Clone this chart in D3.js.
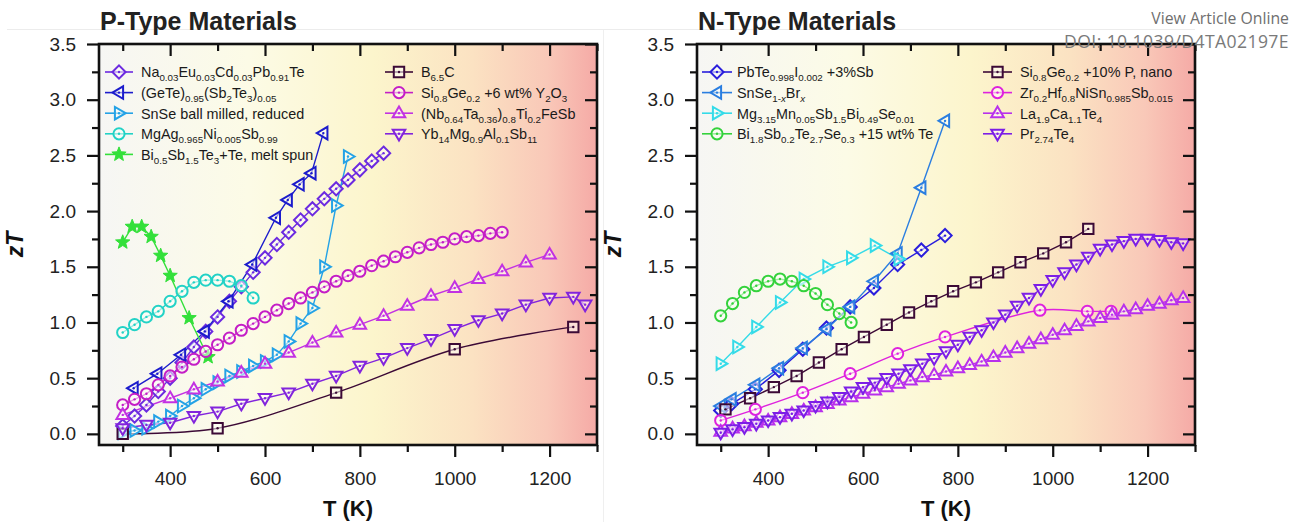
<!DOCTYPE html>
<html><head><meta charset="utf-8">
<script src="https://cdn.jsdelivr.net/npm/d3@7"></script>
<style>
body{margin:0;background:#fff;}
svg{display:block;font-family:"Liberation Sans",Arial,sans-serif;}
</style>
</head><body>
<svg id="c" width="1291" height="522"></svg>
<script>
// ---------- axis ticks ----------
const xTickLabels = [400, 600, 800, 1000, 1200];
const xMinorTicks = [300, 500, 700, 900, 1100, 1300];
const yTickLabels = [0, 0.5, 1.0, 1.5, 2.0, 2.5, 3.0, 3.5];
const yMinorTicks = [0.25, 0.75, 1.25, 1.75, 2.25, 2.75, 3.25];

// ---------- P-type data ----------
const pNaT  = [300,325,350,375,400,425,450,475,500,525,550,575,600,625,650,675,700,725,750,775,800,825,850];
const pNaZT = [0.07,0.16,0.26,0.38,0.50,0.64,0.78,0.92,1.05,1.19,1.32,1.45,1.58,1.70,1.81,1.92,2.02,2.11,2.20,2.28,2.37,2.45,2.52];
const pGeTeT  = [323,373,423,473,523,573,623,648,673,698,723];
const pGeTeZT = [0.41,0.54,0.71,0.92,1.19,1.52,1.94,2.10,2.24,2.34,2.70];
const pSnSeT  = [300,325,350,375,400,425,450,475,500,525,550,575,600,625,650,675,700,725,750,775];
const pSnSeZT = [0.01,0.03,0.05,0.11,0.16,0.25,0.32,0.40,0.46,0.52,0.56,0.61,0.65,0.71,0.83,0.99,1.13,1.50,2.05,2.49];
const pMgAgT  = [300,325,350,375,400,425,450,475,500,525,550,575];
const pMgAgZT = [0.91,0.98,1.05,1.10,1.19,1.28,1.36,1.38,1.38,1.37,1.33,1.22];
const pBiT  = [300,320,340,360,380,400,440,480];
const pBiZT = [1.72,1.86,1.86,1.77,1.60,1.42,1.04,0.69];
const pB6T  = [300,500,750,1000,1250];
const pB6ZT = [0.00,0.05,0.37,0.76,0.96];
const pSiT  = [300,325,350,375,400,425,450,475,500,525,550,575,600,625,650,675,700,725,750,775,800,825,850,875,900,925,950,975,1000,1025,1050,1075,1100];
const pSiZT = [0.26,0.31,0.36,0.44,0.52,0.60,0.67,0.74,0.80,0.86,0.93,0.99,1.05,1.11,1.17,1.22,1.27,1.32,1.37,1.42,1.46,1.51,1.55,1.59,1.63,1.67,1.70,1.72,1.75,1.77,1.78,1.80,1.81];
const pNbT  = [300,400,450,500,550,600,650,700,750,800,850,900,950,1000,1050,1100,1150,1200];
const pNbZT = [0.17,0.32,0.40,0.47,0.55,0.63,0.73,0.82,0.91,0.98,1.06,1.15,1.24,1.31,1.39,1.46,1.54,1.61];
const pYbT  = [300,350,400,450,500,550,600,650,700,750,800,850,900,950,1000,1050,1100,1150,1200,1250,1275];
const pYbZT = [0.05,0.08,0.10,0.16,0.20,0.27,0.32,0.37,0.45,0.52,0.61,0.68,0.77,0.85,0.94,1.02,1.08,1.16,1.22,1.23,1.16];

// ---------- N-type data ----------
const nPbTeT  = [300,323,373,423,473,523,573,623,673,723,773];
const nPbTeZT = [0.21,0.27,0.40,0.57,0.76,0.95,1.14,1.31,1.52,1.65,1.78];
const nSnSeT  = [300,323,373,423,473,523,573,623,673,723,773];
const nSnSeZT = [0.25,0.31,0.44,0.59,0.77,0.94,1.14,1.37,1.62,2.21,2.81];
const nMgT  = [300,335,375,425,475,525,575,625,675];
const nMgZT = [0.63,0.78,0.96,1.18,1.39,1.50,1.58,1.69,1.57];
const nBiT  = [300,325,350,375,400,425,450,475,500,525,550,575];
const nBiZT = [1.06,1.17,1.27,1.33,1.37,1.39,1.37,1.33,1.26,1.16,1.08,1.00];
const nSiGeT  = [310,362,412,460,507,555,602,650,697,744,790,838,885,932,980,1028,1075];
const nSiGeZT = [0.22,0.32,0.42,0.52,0.64,0.76,0.87,0.98,1.09,1.19,1.28,1.36,1.45,1.54,1.62,1.72,1.84];
const nZrT  = [300,373,473,573,673,773,973,1073,1123];
const nZrZT = [0.12,0.22,0.37,0.54,0.72,0.87,1.11,1.10,1.10];
const nLaT  = [300,325,350,375,400,425,450,475,500,525,550,575,600,625,650,675,700,725,750,775,800,825,850,875,900,925,950,975,1000,1025,1050,1075,1100,1125,1150,1175,1200,1225,1250,1275];
const nLaZT = [0.02,0.05,0.07,0.10,0.12,0.15,0.18,0.21,0.24,0.27,0.30,0.33,0.36,0.39,0.42,0.45,0.48,0.51,0.53,0.56,0.59,0.62,0.65,0.69,0.73,0.77,0.81,0.85,0.89,0.93,0.97,1.01,1.04,1.07,1.10,1.12,1.15,1.17,1.20,1.22];
const nPrT  = [300,325,350,375,400,425,450,475,500,525,550,575,600,625,650,675,700,725,750,775,800,825,850,875,900,925,950,975,1000,1025,1050,1075,1100,1125,1150,1175,1200,1225,1250,1275];
const nPrZT = [0.01,0.04,0.06,0.09,0.12,0.15,0.18,0.21,0.25,0.29,0.33,0.38,0.42,0.46,0.50,0.54,0.58,0.63,0.68,0.74,0.80,0.87,0.93,1.00,1.07,1.15,1.22,1.30,1.38,1.45,1.52,1.59,1.66,1.70,1.73,1.75,1.75,1.74,1.72,1.71];

// ---------- series descriptors ----------
const pSeries = [
  {name:"Na_{0.03}Eu_{0.03}Cd_{0.03}Pb_{0.91}Te", color:"#6c2ae0", sym:"diamond", T:pNaT, v:pNaZT, col:0},
  {name:"(GeTe)_{0.95}(Sb_{2}Te_{3})_{0.05}", color:"#1c1ccc", sym:"triLeft", T:pGeTeT, v:pGeTeZT, col:0},
  {name:"SnSe ball milled, reduced", color:"#24a2e6", sym:"triRight", T:pSnSeT, v:pSnSeZT, col:0},
  {name:"MgAg_{0.965}Ni_{0.005}Sb_{0.99}", color:"#22d2c6", sym:"circle", T:pMgAgT, v:pMgAgZT, col:0},
  {name:"Bi_{0.5}Sb_{1.5}Te_{3}+Te, melt spun", color:"#33e03a", sym:"star", T:pBiT, v:pBiZT, col:0},
  {name:"B_{6.5}C", color:"#3c0a36", sym:"square", T:pB6T, v:pB6ZT, col:1, smooth:true},
  {name:"Si_{0.8}Ge_{0.2} +6 wt% Y_{2}O_{3}", color:"#c41ec6", sym:"circle", T:pSiT, v:pSiZT, col:1},
  {name:"(Nb_{0.64}Ta_{0.36})_{0.8}Ti_{0.2}FeSb", color:"#c232e2", sym:"triUp", T:pNbT, v:pNbZT, col:1},
  {name:"Yb_{14}Mg_{0.9}Al_{0.1}Sb_{11}", color:"#8224dc", sym:"triDown", T:pYbT, v:pYbZT, col:1}
];
const nSeries = [
  {name:"PbTe_{0.998}I_{0.002} +3%Sb", color:"#2a1edc", sym:"diamond", T:nPbTeT, v:nPbTeZT, col:0},
  {name:"SnSe_{1-$x$}Br_{$x$}", color:"#2a7ee0", sym:"triLeft", T:nSnSeT, v:nSnSeZT, col:0},
  {name:"Mg_{3.15}Mn_{0.05}Sb_{1.5}Bi_{0.49}Se_{0.01}", color:"#34dbe8", sym:"triRight", T:nMgT, v:nMgZT, col:0},
  {name:"Bi_{1.8}Sb_{0.2}Te_{2.7}Se_{0.3} +15 wt% Te", color:"#34d23c", sym:"circle", T:nBiT, v:nBiZT, col:0},
  {name:"Si_{0.8}Ge_{0.2} +10% P, nano", color:"#3c0a36", sym:"square", T:nSiGeT, v:nSiGeZT, col:1},
  {name:"Zr_{0.2}Hf_{0.8}NiSn_{0.985}Sb_{0.015}", color:"#de22de", sym:"circle", T:nZrT, v:nZrZT, col:1, smooth:true},
  {name:"La_{1.9}Ca_{1.1}Te_{4}", color:"#b830ec", sym:"triUp", T:nLaT, v:nLaZT, col:1},
  {name:"Pr_{2.74}Te_{4}", color:"#7c1ee6", sym:"triDown", T:nPrT, v:nPrZT, col:1}
];

const svg = d3.select("#c");
const defs = svg.append("defs");
const grad = defs.append("linearGradient").attr("id","bg").attr("x1","0").attr("x2","1").attr("y1","0").attr("y2","0");
[["0%","#f6f6f4"],["30%","#fcfbe6"],["55%","#fcf5cc"],["75%","#fbe2c2"],["90%","#f9c8b8"],["100%","#f5aaa6"]]
  .forEach(s=>grad.append("stop").attr("offset",s[0]).attr("stop-color",s[1]));

// page artefacts
svg.append("line").attr("x1",7).attr("x2",1195).attr("y1",29.5).attr("y2",29.5).attr("stroke","#ececec").attr("stroke-width",1);
svg.append("line").attr("x1",603.5).attr("x2",603.5).attr("y1",30).attr("y2",522).attr("stroke","#efefef").attr("stroke-width",1);

function symPath(sym){
  const r=6.6;
  switch(sym){
    case "diamond": return `M0,${-r}L${r},0L0,${r}L${-r},0Z`;
    case "square": {const s=5.2; return `M${-s},${-s}H${s}V${s}H${-s}Z`;}
    case "triUp": return `M0,${-r}L${r*0.95},${r*0.62}L${-r*0.95},${r*0.62}Z`;
    case "triDown": return `M0,${r}L${r*0.95},${-r*0.62}L${-r*0.95},${-r*0.62}Z`;
    case "triLeft": return `M${-r},0L${r*0.62},${-r*0.95}L${r*0.62},${r*0.95}Z`;
    case "triRight": return `M${r},0L${-r*0.62},${-r*0.95}L${-r*0.62},${r*0.95}Z`;
    case "star": {
      let p=""; const R=7.5, ri=3.2;
      for(let i=0;i<10;i++){const a=-Math.PI/2+i*Math.PI/5; const rr=i%2?ri:R; p+=(i?"L":"M")+(rr*Math.cos(a)).toFixed(2)+","+(rr*Math.sin(a)).toFixed(2);}
      return p+"Z";
    }
  }
  return null;
}
function drawMarker(g, s, cx, cy){
  if(s.sym==="circle"){
    g.append("circle").attr("cx",cx).attr("cy",cy).attr("r",5.6).attr("fill","rgba(255,255,250,0.55)").attr("stroke",s.color).attr("stroke-width",2);
  } else if(s.sym==="star"){
    g.append("path").attr("transform",`translate(${cx},${cy})`).attr("d",symPath("star")).attr("fill",s.color).attr("stroke",s.color).attr("stroke-width",1);
    return;
  } else {
    g.append("path").attr("transform",`translate(${cx},${cy})`).attr("d",symPath(s.sym)).attr("fill","rgba(255,255,250,0.55)").attr("stroke",s.color).attr("stroke-width",2).attr("stroke-linejoin","miter");
  }
  g.append("circle").attr("cx",cx).attr("cy",cy).attr("r",1.2).attr("fill",s.color);
}
function richText(sel, str, size){
  const parts = str.split(/(_\{[^}]*\})/).filter(s=>s.length);
  let shift=0;
  parts.forEach(p=>{
    const sub = p.startsWith("_{");
    const txt = sub ? p.slice(2,-1) : p;
    txt.split(/(\$[^$]*\$)/).filter(s=>s.length).forEach(q=>{
      const it = q.startsWith("$");
      const t = it ? q.slice(1,-1) : q;
      const target = sub ? 4 : 0;
      sel.append("tspan").attr("dy", target-shift).attr("font-size", sub? size*0.68 : size)
        .attr("font-style", it? "italic": null).text(t);
      shift = target;
    });
  });
}

function panel(x0, series, title, legX){
  const W=498, top=44, bot=445;
  const x = d3.scaleLinear().domain([250,1300]).range([x0, x0+W]);
  const y = d3.scaleLinear().domain([-0.1,3.5]).range([bot, top]);
  const g = svg.append("g");
  g.append("rect").attr("x",x0).attr("y",top).attr("width",W).attr("height",bot-top).attr("fill","url(#bg)");

  // series
  series.forEach(s=>{
    const pts = s.T.map((t,i)=>[x(t), y(s.v[i])]);
    const line = d3.line().curve(s.smooth? d3.curveCatmullRom.alpha(0.5) : d3.curveLinear);
    g.append("path").attr("d",line(pts)).attr("fill","none").attr("stroke",s.color).attr("stroke-width",1.4);
  });
  series.forEach(s=>{
    const mg = g.append("g");
    s.T.forEach((t,i)=>drawMarker(mg, s, x(t), y(s.v[i])));
  });

  // axes
  const fs=19;
  const ax = g.append("g").attr("transform",`translate(0,${bot})`)
     .call(d3.axisBottom(x).tickValues(xTickLabels).tickSize(12).tickPadding(15).tickFormat(d3.format("d")));
  const axm = g.append("g").attr("transform",`translate(0,${bot})`)
     .call(d3.axisBottom(x).tickValues(xMinorTicks).tickSize(7).tickFormat(""));
  const axt = g.append("g").attr("transform",`translate(0,${top})`)
     .call(d3.axisBottom(x).tickValues(xTickLabels).tickSize(12).tickFormat(""));
  const axtm = g.append("g").attr("transform",`translate(0,${top})`)
     .call(d3.axisBottom(x).tickValues(xMinorTicks).tickSize(7).tickFormat(""));
  const ay = g.append("g").attr("transform",`translate(${x0},0)`)
     .call(d3.axisLeft(y).tickValues(yTickLabels).tickSize(12).tickPadding(11).tickFormat(d3.format(".1f")));
  const aym = g.append("g").attr("transform",`translate(${x0},0)`)
     .call(d3.axisLeft(y).tickValues(yMinorTicks).tickSize(7).tickFormat(""));
  const ayr = g.append("g").attr("transform",`translate(${x0+W},0)`)
     .call(d3.axisLeft(y).tickValues(yTickLabels).tickSize(12).tickFormat(""));
  const ayrm = g.append("g").attr("transform",`translate(${x0+W},0)`)
     .call(d3.axisLeft(y).tickValues(yMinorTicks).tickSize(7).tickFormat(""));
  [ax,axm,axt,axtm,ay,aym,ayr,ayrm].forEach(a=>{
    a.select(".domain").remove();
    a.selectAll("line").attr("stroke","#111").attr("stroke-width",2.2);
    a.selectAll("text").attr("font-size",fs).attr("fill","#222").attr("font-family","Liberation Sans, Arial, sans-serif");
  });
  g.append("rect").attr("x",x0).attr("y",top).attr("width",W).attr("height",bot-top)
    .attr("fill","none").attr("stroke","#111").attr("stroke-width",2.6);

  // titles
  g.append("text").attr("x",x0+1).attr("y",30).attr("font-size",25).attr("font-weight","bold").attr("fill","#222").text(title);
  g.append("text").attr("x",x0+W/2).attr("y",516).attr("text-anchor","middle").attr("font-size",22).attr("font-weight","bold").attr("fill","#111").text("T (K)");
  g.append("text").attr("transform",`translate(${x0-76},${(top+bot)/2}) rotate(-90)`).attr("text-anchor","middle")
    .attr("font-size",23).attr("font-weight","bold").attr("font-style","italic").attr("fill","#111").text("zT");

  // legend
  series.forEach(s=>{
    const idx = series.filter(q=>q.col===s.col).indexOf(s);
    const L = legX[s.col];
    const cy = 72 + idx*20.6;
    g.append("line").attr("x1",L[0]).attr("x2",L[1]).attr("y1",cy).attr("y2",cy).attr("stroke",s.color).attr("stroke-width",1.6);
    drawMarker(g, s, (L[0]+L[1])/2, cy);
    const t = g.append("text").attr("x",L[2]).attr("y",cy+5.3).attr("font-size",14.4).attr("fill","#1a1a1a").style("white-space","pre");
    richText(t, s.name, 14.4);
  });
}

panel(99, pSeries, "P-Type Materials", [[105,133,141],[385,413,421]]);
panel(697, nSeries, "N-Type Materials", [[702,732,737],[983,1012,1020]]);

// page header text
svg.append("text").attr("x",1289).attr("y",23.5).attr("text-anchor","end").attr("font-family","Open Sans, Noto Sans, sans-serif")
  .attr("font-size",15.8).attr("fill","#6f6f6f").text("View Article Online");
svg.append("text").attr("x",1289).attr("y",48).attr("text-anchor","end").attr("font-family","Open Sans, Noto Sans, sans-serif")
  .attr("font-size",17.6).attr("fill","#7a7a7a").attr("letter-spacing",0.4).text("DOI: 10.1039/D4TA02197E");
</script>
</body></html>
